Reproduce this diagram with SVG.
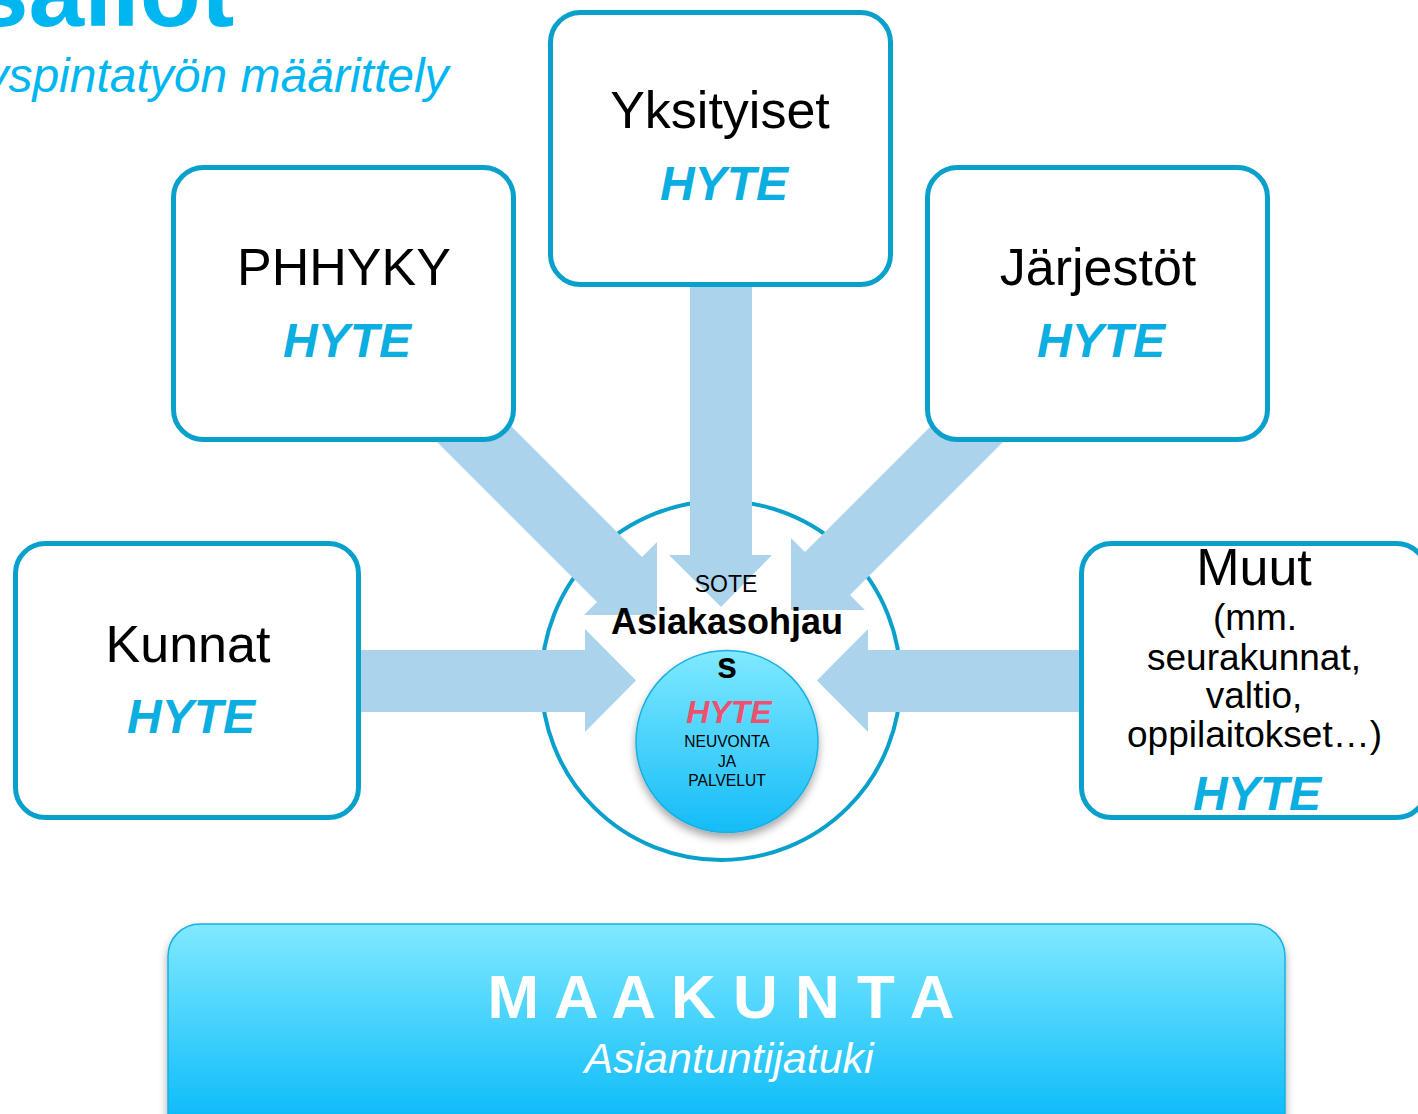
<svg xmlns="http://www.w3.org/2000/svg" width="1418" height="1114" viewBox="0 0 1418 1114">
<defs>
<linearGradient id="gInner" x1="0" y1="0" x2="0" y2="1">
<stop offset="0" stop-color="#80e9ff"/>
<stop offset="1" stop-color="#14bcf8"/>
</linearGradient>
<linearGradient id="gMaa" gradientUnits="userSpaceOnUse" x1="0" y1="924" x2="0" y2="1114">
<stop offset="0" stop-color="#80e9ff"/>
<stop offset="1" stop-color="#10bdf9"/>
</linearGradient>
<filter id="shadow" x="-20%" y="-20%" width="140%" height="150%">
<feDropShadow dx="0" dy="5" stdDeviation="4" flood-color="#000" flood-opacity="0.35"/>
</filter>
<style>
text{font-family:"Liberation Sans",Arial,sans-serif;text-anchor:middle}
.box{fill:#fff;stroke:#0aa0cc;stroke-width:5}
.name{font-size:52px;fill:#000}
.hyte{font-size:48px;font-weight:bold;font-style:italic;fill:#0aaee0}
.arrow{fill:#abd3eb}
.muut{font-size:37px;fill:#000}
</style>
</defs>
<rect width="1418" height="1114" fill="#fff"/>
<g id="title">
<text x="-27" y="26" style="text-anchor:start;font-size:100px;font-weight:bold;fill:#00b6f0">sallot</text>
<text x="-93" y="92" style="text-anchor:start;font-size:48px;font-style:italic;fill:#00b6f0">yhdyspintatyön määrittely</text>
</g>
<g id="sote-ring">
<circle cx="721" cy="680.5" r="179.5" fill="#fff" stroke="#0aa0cc" stroke-width="4"/>
</g>
<g id="connectors">
<polygon class="arrow" points="690,280 752,280 752,555 772,555 721,607 669,555 690,555"/>
<polygon class="arrow" points="355,650 585,650 585,629 636,680.5 585,732 585,712 355,712"/>
<polygon class="arrow" points="1090,650 868,650 868,629 817,680.5 868,732 868,712 1090,712"/>
<polygon class="arrow" points="510,425 642,557 657,542 657,615 584,615 597,602 420,425"/>
<polygon class="arrow" points="932,425 805,552 791,538 791,610 865,610 850,595 1020,425"/>
</g>
<g id="node-yksityiset">
<rect class="box" x="550.5" y="12.5" width="340" height="272" rx="30"/>
<text class="name" x="720" y="128">Yksityiset</text>
<text class="hyte" x="724" y="200">HYTE</text>
</g>
<g id="node-phhyky">
<rect class="box" x="173.5" y="167.5" width="340" height="272" rx="30"/>
<text class="name" x="344" y="285">PHHYKY</text>
<text class="hyte" x="347" y="357">HYTE</text>
</g>
<g id="node-jarjestot">
<rect class="box" x="927.5" y="167.5" width="340" height="272" rx="30"/>
<text class="name" x="1098" y="285">Järjestöt</text>
<text class="hyte" x="1101" y="357">HYTE</text>
</g>
<g id="node-kunnat">
<rect class="box" x="15.5" y="543.5" width="343" height="274" rx="30"/>
<text class="name" x="188" y="662">Kunnat</text>
<text class="hyte" x="191" y="733">HYTE</text>
</g>
<g id="node-muut">
<rect class="box" x="1081.5" y="543.5" width="345" height="274" rx="30"/>
<text class="name" x="1254" y="585">Muut</text>
<text class="muut" x="1255" y="630">(mm.</text>
<text class="muut" x="1254" y="670">seurakunnat,</text>
<text class="muut" x="1254" y="708">valtio,</text>
<text class="muut" x="1254.5" y="747">oppilaitokset…)</text>
<text class="hyte" x="1257" y="810">HYTE</text>
</g>
<g id="node-sote">
<text x="726" y="592" style="font-size:23px;fill:#000">SOTE</text>
<text x="727" y="634" style="font-size:36px;font-weight:bold;fill:#000">Asiakasohjau</text>
<circle cx="727" cy="741.5" r="91" fill="url(#gInner)" stroke="#1aaee0" stroke-width="1.5" filter="url(#shadow)"/>
<text x="727" y="678" style="font-size:36px;font-weight:bold;fill:#000">s</text>
<text x="729" y="723" style="font-size:32px;font-weight:bold;font-style:italic;fill:#f04f6d">HYTE</text>
<text x="727" y="747" style="font-size:15.6px;fill:#000">NEUVONTA</text>
<text x="727" y="767" style="font-size:15.6px;fill:#000">JA</text>
<text x="727" y="786" style="font-size:15.6px;fill:#000">PALVELUT</text>
</g>
<g id="node-maakunta">
<rect x="168" y="924" width="1117" height="230" rx="32" fill="url(#gMaa)" stroke="#1aaee0" stroke-width="1.5" filter="url(#shadow)"/>
<text x="721" y="1018" style="font-size:62px;font-weight:bold;fill:#fff">M A A K U N T A</text>
<text x="729" y="1073" style="font-size:43px;font-style:italic;fill:#fff">Asiantuntijatuki</text>
</g>
</svg>
